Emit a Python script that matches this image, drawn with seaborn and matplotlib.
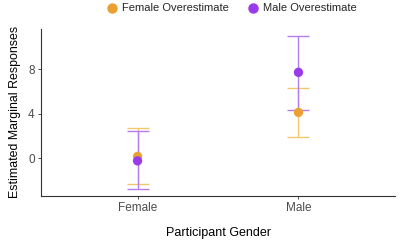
import matplotlib
matplotlib.use("Agg")
import matplotlib.pyplot as plt
import seaborn as sns
import pandas as pd
from matplotlib.lines import Line2D

participant = ["Female", "Female", "Male", "Male"]
condition = ["Female Overestimate", "Male Overestimate", "Female Overestimate", "Male Overestimate"]
estimate = [0.15, -0.25, 4.1, 7.7]
lower = [-2.35, -2.8, 1.9, 4.3]
upper = [2.7, 2.4, 6.3, 11.0]

df = pd.DataFrame({"Participant Gender": participant, "cond": condition,
                   "est": estimate, "lo": lower, "hi": upper})

palette = {"Female Overestimate": "#EBA132", "Male Overestimate": "#9A3BEB"}
bar_colors = {"Female Overestimate": "#F2C86E", "Male Overestimate": "#B57CF0"}

sns.set_theme(style="white")
plt.rcParams["font.family"] = ["Liberation Sans", "DejaVu Sans"]

fig = plt.figure(figsize=(4.0, 2.41), dpi=100)
ax = fig.add_axes([0.1025, 0.187, 0.885, 0.693])

for cond in ["Female Overestimate", "Male Overestimate"]:
    sub = df[df["cond"] == cond]
    ax.errorbar(sub["Participant Gender"], sub["est"],
                yerr=[sub["est"] - sub["lo"], sub["hi"] - sub["est"]],
                fmt="none", ecolor=bar_colors[cond], elinewidth=1.0,
                capsize=8, capthick=1.0, zorder=2)

sns.scatterplot(data=df, x="Participant Gender", y="est", hue="cond",
                palette=palette, s=45, edgecolor="none", legend=False,
                ax=ax, zorder=3)

ax.set_xlim(-0.6, 1.6)
ax.set_ylim(-3.4, 11.6)
ax.set_yticks([0, 4, 8])
ax.set_ylabel("Estimated Marginal Responses", fontsize=8.9, color="black", labelpad=5)
ax.set_xlabel("Participant Gender", fontsize=9, color="black", labelpad=9)
ax.tick_params(axis="both", labelsize=8.5, labelcolor="#4D4D4D", length=2.5,
               width=0.6, color="#333333", direction="out", bottom=True, left=True, pad=2)
for side in ["top", "right"]:
    ax.spines[side].set_visible(False)
for side in ["left", "bottom"]:
    ax.spines[side].set_color("#333333")
    ax.spines[side].set_linewidth(0.8)

handles = [Line2D([0], [0], marker="o", color=palette[c], markersize=6.5, linestyle="none")
           for c in ["Female Overestimate", "Male Overestimate"]]
fig.legend(handles, ["Female Overestimate", "Male Overestimate"], loc="center",
           bbox_to_anchor=(0.578, 0.965), ncol=2, frameon=False, fontsize=8,
           handlelength=1.2, handletextpad=0.3, columnspacing=1.6)

fig.savefig("out.png", dpi=100)
